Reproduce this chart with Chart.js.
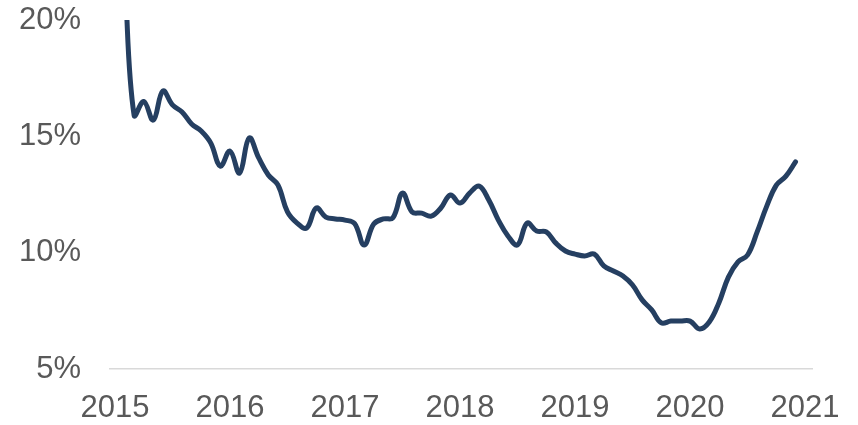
<!DOCTYPE html>
<html>
<head>
<meta charset="utf-8">
<script src="https://cdn.jsdelivr.net/npm/chart.js@4"></script>
<style>
  html, body { margin: 0; padding: 0; background: #ffffff; }
  #wrap { width: 858px; height: 425px; position: relative; }
</style>
</head>
<body>
<div id="wrap"><canvas id="c"></canvas></div>
<script>
// Monthly observations, end of month, Jan 2015 .. Nov 2020
const startYear = 2015;
const months = [];
for (let i = 0; i < 71; i++) {
  const y = startYear + Math.floor(i / 12);
  const m = (i % 12) + 1;
  months.push(y + '-' + String(m).padStart(2, '0'));
}
const values = [
  22.0, 15.9, 16.5, 15.7, 16.95, 16.35, 16.05, 15.53, 15.23, 14.71, 13.72, 14.37,
  13.42, 14.93, 14.07, 13.34, 12.91, 11.75, 11.27, 11.06, 11.92, 11.53, 11.45, 11.4,
  11.25, 10.33, 11.23, 11.45, 11.5, 12.56, 11.75, 11.7, 11.57, 11.92, 12.48, 12.13,
  12.56, 12.86, 12.26, 11.4, 10.72, 10.33, 11.27, 10.93, 10.89, 10.41, 10.07, 9.94,
  9.86, 9.94, 9.43, 9.21, 9.0, 8.61, 7.97, 7.54, 6.98, 7.06, 7.06, 7.06, 6.72, 7.02,
  7.84, 8.95, 9.6, 9.9, 10.89, 12.0, 12.9, 13.29, 13.9
];
const xTickYears = [2015, 2016, 2017, 2018, 2019, 2020, 2021];
const yTicks = [5, 10, 15, 20];

function monthToX(s) {
  const [y, m] = s.split('-').map(Number);
  return y + m / 12;
}
const points = months.map((mo, i) => ({ x: monthToX(mo), y: values[i] }));

const FONT = "'Liberation Sans', Arial, sans-serif";
const TXT = '#595959';

new Chart(document.getElementById('c'), {
  type: 'line',
  data: {
    datasets: [{
      data: points,
      borderColor: '#253f61',
      borderWidth: 5,
      pointRadius: 0,
      tension: 0.4,
      fill: false,
      borderCapStyle: 'round'
    }]
  },
  options: {
    responsive: true,
    maintainAspectRatio: false,
    animation: false,
    devicePixelRatio: 1,
    layout: { padding: { top: 20, right: 46, bottom: 0, left: 0 } },
    plugins: { legend: { display: false }, tooltip: { enabled: false } },
    scales: {
      x: {
        type: 'linear',
        min: 2014.957,
        max: 2021.06,
        afterBuildTicks: s => { s.ticks = xTickYears.map(v => ({ value: v })); },
        afterFit: s => { s.height = 56; s.paddingLeft = 0; s.paddingRight = 0; },
        grid: { display: false, drawTicks: false },
        border: { display: true, color: '#d9d9d9', width: 1.5 },
        ticks: {
          padding: 21,
          autoSkip: false,
          maxRotation: 0,
          color: TXT,
          font: { family: FONT, size: 31 },
          callback: v => String(v)
        }
      },
      y: {
        min: 5,
        max: 20,
        afterBuildTicks: s => { s.ticks = yTicks.map(v => ({ value: v })); },
        afterFit: s => { s.width = 110; s.paddingTop = 0; s.paddingBottom = 0; },
        grid: { display: false, drawTicks: false },
        border: { display: false },
        ticks: {
          padding: 29,
          color: TXT,
          font: { family: FONT, size: 31 },
          callback: v => v + '%'
        }
      }
    }
  }
});
</script>
</body>
</html>
